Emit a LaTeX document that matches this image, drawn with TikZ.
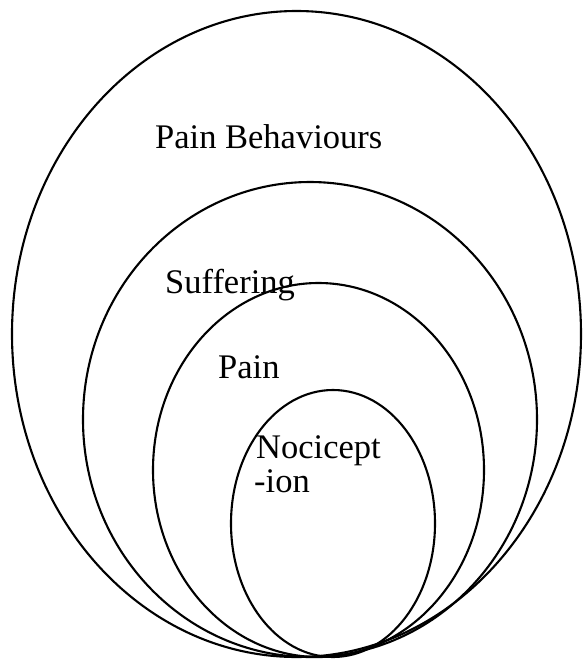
\documentclass[tikz,border=0pt]{standalone}
\usepackage{fontspec}
\setmainfont{Liberation Serif}
\begin{document}
\begin{tikzpicture}[x=1pt,y=-1pt,
  ring/.style={draw=black,line width=2.1pt},
  lbl/.style={anchor=base west,inner sep=0pt,font=\fontsize{34.5}{40}\selectfont}]
\useasboundingbox (0,0) rectangle (582,659);
\node[lbl] (behav) at (155,148) {Pain Behaviours};
\node[lbl] (suff) at (165,293) {Suffering};
\node[lbl] (pain) at (218,378) {Pain};
\node[lbl] (noci1) at (256,458) {Nocicept};
\node[lbl] (noci2) at (254,492) {-ion};
\draw[ring] (296.5,334) ellipse [x radius=284.5pt, y radius=323pt];
\draw[ring] (310,419.5) ellipse [x radius=227pt, y radius=237.5pt];
\draw[ring] (318.5,470) ellipse [x radius=165.5pt, y radius=187pt];
\draw[ring] (333,523.5) ellipse [x radius=102pt, y radius=133.5pt];
\end{tikzpicture}
\end{document}
